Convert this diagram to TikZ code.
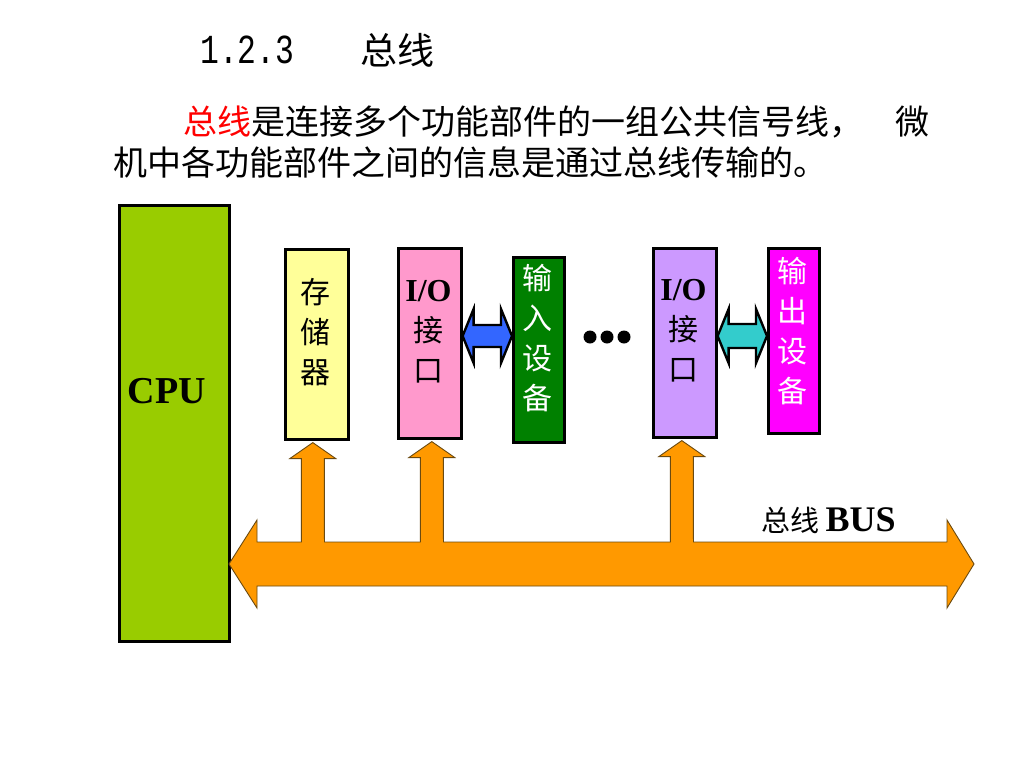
\documentclass[tikz,border=0pt]{standalone}
\usepackage{fontspec}
\setmainfont{Liberation Serif}
\newfontfamily\cjk{Noto Sans CJK SC}
\newfontfamily\monof{Liberation Mono}
\usetikzlibrary{calc}
\definecolor{cpugreen}{HTML}{99CC00}
\definecolor{memyellow}{HTML}{FFFF99}
\definecolor{iopink}{HTML}{FF99CC}
\definecolor{indevgreen}{HTML}{008000}
\definecolor{iolilac}{HTML}{CC99FF}
\definecolor{outmagenta}{HTML}{FF00FF}
\definecolor{arrowblue}{HTML}{3366FF}
\definecolor{arrowcyan}{HTML}{33CCCC}
\definecolor{busorange}{HTML}{FF9900}
\definecolor{busedge}{HTML}{6B4A10}
\begin{document}
\begin{tikzpicture}[x=1pt,y=-1pt,
  box/.style={draw=black,line width=2.6pt,inner sep=0pt,anchor=north west},
  lbl/.style={inner sep=0pt,align=center,font=\cjk\fontsize{30}{40}\selectfont},
  wlbl/.style={lbl,text=white},
  para/.style={inner sep=0pt,anchor=west,font=\cjk\fontsize{34}{40}\selectfont},
  busarrow/.style={fill=busorange,draw=busedge,line width=0.9pt,line join=miter},
  dblarrow/.style={draw=black,line width=2.4pt,line join=miter}]
\useasboundingbox (0,0) rectangle (1024,768);
\fill[white] (0,0) rectangle (1024,768);

% title and paragraph
\node[inner sep=0pt,anchor=west] (num) at (200,50) {\monof\fontsize{33}{40}\selectfont\scalebox{0.95}[1.25]{1.2.3}};
\node[inner sep=0pt,anchor=west] (ttl) at (360,50) {\cjk\fontsize{37}{40}\selectfont 总线};
\node[para] (p1) at (183,122) {{\color{red}总线}是连接多个功能部件的一组公共信号线，};
\node[para] (p1b) at (895,122) {微};
\node[para] (p2) at (113,162) {机中各功能部件之间的信息是通过总线传输的。};

% boxes
\node[box,fill=cpugreen,minimum width=110pt,minimum height=436pt] (cpu) at (118,204) {};
\node[box,fill=memyellow,minimum width=63pt,minimum height=190pt] (mem) at (284,248) {};
\node[box,fill=iopink,minimum width=63pt,minimum height=190pt] (ioa) at (397,247) {};
\node[box,fill=indevgreen,minimum width=51pt,minimum height=185pt] (indev) at (512,256) {};
\node[box,fill=iolilac,minimum width=63pt,minimum height=189pt] (iob) at (652,247) {};
\node[box,fill=outmagenta,minimum width=51pt,minimum height=185pt] (outdev) at (767,247) {};

% labels
\node[inner sep=0pt,font=\bfseries\fontsize{38}{40}\selectfont] (cput) at (167,391) {CPU};
\node[lbl] (memt) at (315.5,332) {存\\储\\器};
\node[lbl] (ioat) at (428.5,332) {{\rmfamily\bfseries\fontsize{32}{40}\selectfont I/O}\\接\\口};
\node[wlbl] (indevt) at (537.5,338) {输\\入\\设\\备};
\node[lbl] (iobt) at (683.5,331) {{\rmfamily\bfseries\fontsize{32}{40}\selectfont I/O}\\接\\口};
\node[wlbl] (outdevt) at (792.5,331) {输\\出\\设\\备};

% dots
\fill (590,337) circle (6.5pt);
\fill (607,337) circle (6.5pt);
\fill (624,337) circle (6.5pt);

% horizontal double arrows
\coordinate (ya) at (0,336);
\coordinate (bl) at (ioa.east |- ya);
\coordinate (br) at (indev.west |- ya);
\draw[dblarrow,fill=arrowblue] (bl) -- ($(bl)+(11,-27)$) -- ($(bl)+(11,-11)$) -- ($(br)+(-11,-11)$) -- ($(br)+(-11,-27)$) -- (br) -- ($(br)+(-11,27)$) -- ($(br)+(-11,11)$) -- ($(bl)+(11,11)$) -- ($(bl)+(11,27)$) -- cycle;
\coordinate (cl) at (iob.east |- ya);
\coordinate (cr) at (outdev.west |- ya);
\draw[dblarrow,fill=arrowcyan] (cl) -- ($(cl)+(11,-27)$) -- ($(cl)+(11,-12)$) -- ($(cr)+(-11,-12)$) -- ($(cr)+(-11,-27)$) -- (cr) -- ($(cr)+(-11,27)$) -- ($(cr)+(-11,12)$) -- ($(cl)+(11,12)$) -- ($(cl)+(11,27)$) -- cycle;

% up arrows into the bus
\coordinate (bustop) at (0,542);
\foreach \n/\dx in {mem/-4,ioa/2,iob/-3}{
  \coordinate (\n tip) at ($(\n.south)+(\dx,2)$);
  \draw[busarrow] (\n tip) -- ($(\n tip)+(23,16)$) -- ($(\n tip)+(11.5,16)$) -- ($(\n tip |- bustop)+(11.5,0)$) -- ($(\n tip |- bustop)+(-11.5,0)$) -- ($(\n tip)+(-11.5,16)$) -- ($(\n tip)+(-23,16)$) -- cycle;
}

% bus
\coordinate (busL) at (229,564);
\coordinate (busR) at (974,564);
\draw[busarrow] (busL) -- ($(busL)+(28,-44)$) -- ($(busL)+(28,-22)$) -- ($(busR)+(-27,-22)$) -- ($(busR)+(-27,-44)$) -- (busR) -- ($(busR)+(-27,44)$) -- ($(busR)+(-27,22)$) -- ($(busL)+(28,22)$) -- ($(busL)+(28,44)$) -- cycle;
\foreach \n in {mem,ioa,iob}{
  \fill[busorange] ($(\n tip |- bustop)+(-10.9,-3)$) rectangle ($(\n tip |- bustop)+(10.9,3)$);
}

\node[inner sep=0pt,anchor=west] (bust) at (761,520) {\cjk\fontsize{29}{40}\selectfont 总线 \rmfamily\bfseries\fontsize{36}{40}\selectfont BUS};
\end{tikzpicture}
\end{document}
